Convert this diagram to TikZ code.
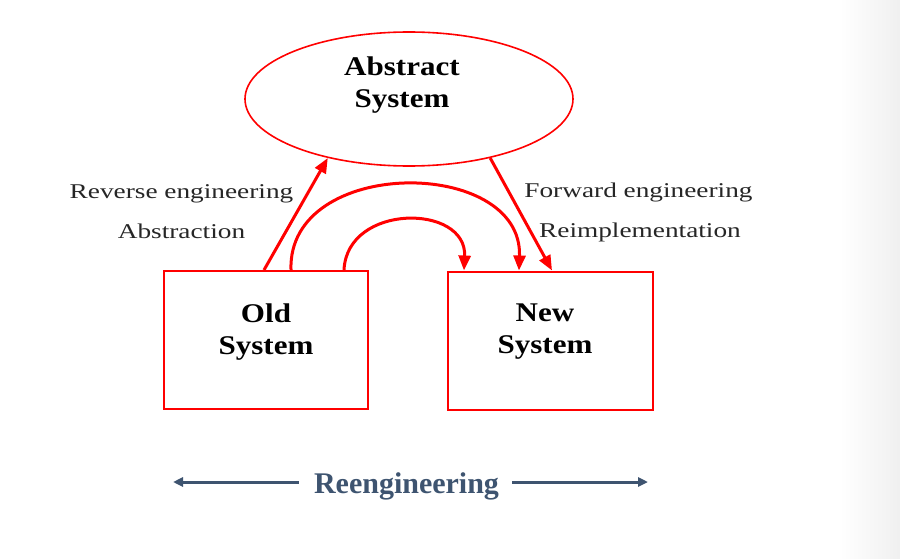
\documentclass[tikz,border=0pt]{standalone}
\usepackage{fontspec}
\setmainfont{Liberation Serif}
\newfontfamily\lblfont[FakeStretch=1.3]{Liberation Serif}
\newfontfamily\boxfont[FakeStretch=1.15]{Liberation Serif}
\usetikzlibrary{arrows.meta,shapes.geometric,calc}
\definecolor{reeng}{RGB}{62,84,112}
\begin{document}
\begin{tikzpicture}[x=1pt,y=-1pt,
  sysbox/.style={draw=red, line width=2pt, rectangle, inner sep=0pt,
                 minimum width=204pt, minimum height=138pt},
  absell/.style={draw=red, line width=1.6pt, ellipse, inner sep=0pt,
                 minimum width=328pt, minimum height=134pt},
  boxtext/.style={font=\boxfont\bfseries\fontsize{27}{32}\selectfont,
                  align=center, inner sep=0pt, text=black},
  lbltext/.style={font=\lblfont\fontsize{21}{25}\selectfont, anchor=base,
                  inner sep=0pt, text=black!85},
  redarrow/.style={draw=red, line width=3pt,
                   -{Triangle[length=15pt,width=12pt]}},
  bluearrow/.style={draw=reeng, line width=3pt,
                    -{Triangle[length=10pt,width=9pt]}}]
\useasboundingbox (0,0) rectangle (900,559);
\fill[white] (0,0) rectangle (900,559);
\shade[left color=white, right color=black!6] (840,0) rectangle (900,559);

% shapes
\node[absell] (abs) at (409,99) {};
\node[sysbox] (old) at (266,340) {};
\node[sysbox, minimum width=205pt] (new) at (550.5,340.5) {};

% texts inside shapes
\node[boxtext] (abstxt) at (402,85) {Abstract\\System};
\node[boxtext] (oldtxt) at (266,332) {Old\\System};
\node[boxtext] (newtxt) at (545,332) {New\\System};

% side labels
\node[lbltext] (rev) at (181.5,199) {Reverse engineering};
\node[lbltext] (abstn) at (181.5,238) {Abstraction};
\node[lbltext] (fwd) at (638.5,197) {Forward engineering};
\node[lbltext] (reimp) at (640,237) {Reimplementation};

% red connectors
\draw[redarrow] ([xshift=101pt]old.north west) -- (abs.216);
\draw[redarrow] (abs.324) -- ([xshift=105pt]new.north west);
\draw[redarrow] ([xshift=128pt]old.north west)
   .. controls +(-4,-114) and +(4,-114) .. ([xshift=72pt]new.north west);
\draw[redarrow] ([xshift=181pt]old.north west)
   .. controls +(3,-67) and +(3,-67) .. ([xshift=17pt]new.north west);

% reengineering
\node[font=\bfseries\fontsize{30}{34}\selectfont, text=reeng, anchor=base,
      inner sep=0pt] (reg) at (406.5,493) {Reengineering};
\coordinate (lend) at (173,482);
\coordinate (rend) at (648,482);
\draw[bluearrow] (reg.west |- lend) ++(-15,0) -- (lend);
\draw[bluearrow] (reg.east |- rend) ++(13,0) -- (rend);
\end{tikzpicture}
\end{document}
